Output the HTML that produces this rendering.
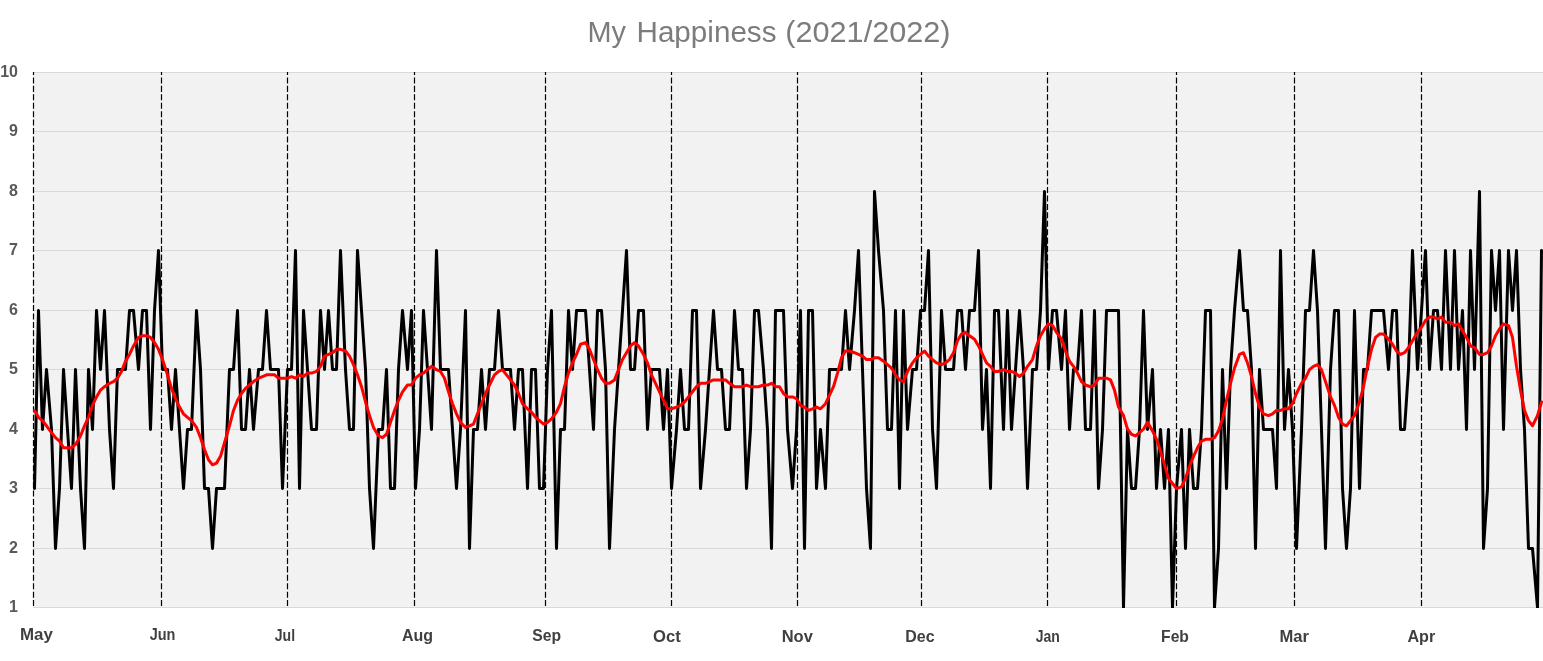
<!DOCTYPE html>
<html><head><meta charset="utf-8"><title>My Happiness (2021/2022)</title>
<style>
html,body{margin:0;padding:0;background:#fff;}
body{width:1543px;height:661px;overflow:hidden;}
svg{display:block;}
text{font-family:"Liberation Sans",sans-serif;}
.yl{font-size:16px;font-weight:bold;fill:#595959;}
.xl{font-size:16.5px;font-weight:bold;fill:#404040;}
.title{font-size:30px;fill:#7c7c7c;}
</style></head><body>
<svg width="1543" height="661" viewBox="0 0 1543 661">
<defs><clipPath id="plot"><rect x="33.0" y="72" width="1510.0" height="536"/></clipPath></defs>
<rect x="0" y="0" width="1543" height="661" fill="#ffffff"/>
<rect x="33.0" y="72" width="1510.0" height="536" fill="#f2f2f2"/>

<line x1="33.0" x2="1543" y1="607.50" y2="607.50" stroke="#d9d9d9" stroke-width="1"/>
<line x1="33.0" x2="1543" y1="548.50" y2="548.50" stroke="#d9d9d9" stroke-width="1"/>
<line x1="33.0" x2="1543" y1="488.50" y2="488.50" stroke="#d9d9d9" stroke-width="1"/>
<line x1="33.0" x2="1543" y1="429.50" y2="429.50" stroke="#d9d9d9" stroke-width="1"/>
<line x1="33.0" x2="1543" y1="369.50" y2="369.50" stroke="#d9d9d9" stroke-width="1"/>
<line x1="33.0" x2="1543" y1="310.50" y2="310.50" stroke="#d9d9d9" stroke-width="1"/>
<line x1="33.0" x2="1543" y1="250.50" y2="250.50" stroke="#d9d9d9" stroke-width="1"/>
<line x1="33.0" x2="1543" y1="191.50" y2="191.50" stroke="#d9d9d9" stroke-width="1"/>
<line x1="33.0" x2="1543" y1="131.50" y2="131.50" stroke="#d9d9d9" stroke-width="1"/>
<line x1="33.0" x2="1543" y1="72.50" y2="72.50" stroke="#d9d9d9" stroke-width="1"/>
<text class="title" y="42"><tspan x="587.5" textLength="38.5" lengthAdjust="spacingAndGlyphs">My</tspan> <tspan x="636.5" textLength="140" lengthAdjust="spacingAndGlyphs">Happiness</tspan> <tspan x="785.3" textLength="165.2" lengthAdjust="spacingAndGlyphs">(2021/2022)</tspan></text>
<text class="yl" x="18" y="611.9" text-anchor="end">1</text>
<text class="yl" x="18" y="552.5" text-anchor="end">2</text>
<text class="yl" x="18" y="493.0" text-anchor="end">3</text>
<text class="yl" x="18" y="433.6" text-anchor="end">4</text>
<text class="yl" x="18" y="374.1" text-anchor="end">5</text>
<text class="yl" x="18" y="314.7" text-anchor="end">6</text>
<text class="yl" x="18" y="255.2" text-anchor="end">7</text>
<text class="yl" x="18" y="195.8" text-anchor="end">8</text>
<text class="yl" x="18" y="136.3" text-anchor="end">9</text>
<text class="yl" x="18" y="76.9" text-anchor="end">10</text>
<text class="xl" x="19.9" y="640.0" textLength="32.9" lengthAdjust="spacingAndGlyphs">May</text>
<text class="xl" x="149.7" y="640.0" textLength="25.7" lengthAdjust="spacingAndGlyphs">Jun</text>
<text class="xl" x="274.8" y="640.6" textLength="20.3" lengthAdjust="spacingAndGlyphs">Jul</text>
<text class="xl" x="402.0" y="641.0" textLength="31.1" lengthAdjust="spacingAndGlyphs">Aug</text>
<text class="xl" x="532.2" y="641.3" textLength="28.8" lengthAdjust="spacingAndGlyphs">Sep</text>
<text class="xl" x="653.0" y="642.0" textLength="27.7" lengthAdjust="spacingAndGlyphs">Oct</text>
<text class="xl" x="781.7" y="642.0" textLength="31.1" lengthAdjust="spacingAndGlyphs">Nov</text>
<text class="xl" x="905.3" y="642.0" textLength="29.3" lengthAdjust="spacingAndGlyphs">Dec</text>
<text class="xl" x="1035.7" y="642.0" textLength="24.1" lengthAdjust="spacingAndGlyphs">Jan</text>
<text class="xl" x="1161.1" y="642.0" textLength="27.8" lengthAdjust="spacingAndGlyphs">Feb</text>
<text class="xl" x="1279.4" y="642.0" textLength="29.5" lengthAdjust="spacingAndGlyphs">Mar</text>
<text class="xl" x="1407.4" y="642.0" textLength="27.8" lengthAdjust="spacingAndGlyphs">Apr</text>
<line x1="33.50" x2="33.50" y1="72" y2="608" stroke="#000" stroke-width="1.2" stroke-dasharray="6.03 2.4" stroke-dashoffset="3"/>
<line x1="161.50" x2="161.50" y1="72" y2="608" stroke="#000" stroke-width="1.2" stroke-dasharray="6.03 2.4" stroke-dashoffset="3"/>
<line x1="287.50" x2="287.50" y1="72" y2="608" stroke="#000" stroke-width="1.2" stroke-dasharray="6.03 2.4" stroke-dashoffset="3"/>
<line x1="414.50" x2="414.50" y1="72" y2="608" stroke="#000" stroke-width="1.2" stroke-dasharray="6.03 2.4" stroke-dashoffset="3"/>
<line x1="545.50" x2="545.50" y1="72" y2="608" stroke="#000" stroke-width="1.2" stroke-dasharray="6.03 2.4" stroke-dashoffset="3"/>
<line x1="671.50" x2="671.50" y1="72" y2="608" stroke="#000" stroke-width="1.2" stroke-dasharray="6.03 2.4" stroke-dashoffset="3"/>
<line x1="797.50" x2="797.50" y1="72" y2="608" stroke="#000" stroke-width="1.2" stroke-dasharray="6.03 2.4" stroke-dashoffset="3"/>
<line x1="921.50" x2="921.50" y1="72" y2="608" stroke="#000" stroke-width="1.2" stroke-dasharray="6.03 2.4" stroke-dashoffset="3"/>
<line x1="1047.50" x2="1047.50" y1="72" y2="608" stroke="#000" stroke-width="1.2" stroke-dasharray="6.03 2.4" stroke-dashoffset="3"/>
<line x1="1176.50" x2="1176.50" y1="72" y2="608" stroke="#000" stroke-width="1.2" stroke-dasharray="6.03 2.4" stroke-dashoffset="3"/>
<line x1="1294.50" x2="1294.50" y1="72" y2="608" stroke="#000" stroke-width="1.2" stroke-dasharray="6.03 2.4" stroke-dashoffset="3"/>
<line x1="1421.50" x2="1421.50" y1="72" y2="608" stroke="#000" stroke-width="1.2" stroke-dasharray="6.03 2.4" stroke-dashoffset="3"/>
<polyline clip-path="url(#plot)" points="34.50,488.50 38.50,310.50 42.50,429.50 46.50,369.50 51.50,429.50 55.50,548.50 59.50,488.50 63.50,369.50 67.50,429.50 71.50,488.50 75.50,369.50 80.50,488.50 84.50,548.50 88.50,369.50 92.50,429.50 96.50,310.50 100.50,369.50 104.50,310.50 109.50,429.50 113.50,488.50 117.50,369.50 121.50,369.50 125.50,369.50 129.50,310.50 133.50,310.50 138.50,369.50 142.50,310.50 146.50,310.50 150.50,429.50 154.50,310.50 158.50,250.50 162.50,369.50 167.50,369.50 171.50,429.50 175.50,369.50 179.50,429.50 183.50,488.50 187.50,429.50 191.50,429.50 196.50,310.50 200.50,369.50 204.50,488.50 208.50,488.50 212.50,548.50 216.50,488.50 220.50,488.50 224.50,488.50 229.50,369.50 233.50,369.50 237.50,310.50 241.50,429.50 245.50,429.50 249.50,369.50 253.50,429.50 258.50,369.50 262.50,369.50 266.50,310.50 270.50,369.50 274.50,369.50 278.50,369.50 282.50,488.50 287.50,369.50 291.50,369.50 295.50,250.50 299.50,488.50 303.50,310.50 307.50,369.50 311.50,429.50 316.50,429.50 320.50,310.50 324.50,369.50 328.50,310.50 332.50,369.50 336.50,369.50 340.50,250.50 345.50,369.50 349.50,429.50 353.50,429.50 357.50,250.50 361.50,310.50 365.50,369.50 369.50,488.50 373.50,548.50 378.50,429.50 382.50,429.50 386.50,369.50 390.50,488.50 394.50,488.50 398.50,369.50 402.50,310.50 407.50,369.50 411.50,310.50 415.50,488.50 419.50,429.50 423.50,310.50 427.50,369.50 431.50,429.50 436.50,250.50 440.50,369.50 444.50,369.50 448.50,369.50 452.50,429.50 456.50,488.50 460.50,429.50 465.50,310.50 469.50,548.50 473.50,429.50 477.50,429.50 481.50,369.50 485.50,429.50 489.50,369.50 494.50,369.50 498.50,310.50 502.50,369.50 506.50,369.50 510.50,369.50 514.50,429.50 518.50,369.50 522.50,369.50 527.50,488.50 531.50,369.50 535.50,369.50 539.50,488.50 543.50,488.50 547.50,369.50 551.50,310.50 556.50,548.50 560.50,429.50 564.50,429.50 568.50,310.50 572.50,369.50 576.50,310.50 580.50,310.50 585.50,310.50 589.50,369.50 593.50,429.50 597.50,310.50 601.50,310.50 605.50,369.50 609.50,548.50 614.50,429.50 618.50,369.50 622.50,310.50 626.50,250.50 630.50,369.50 634.50,369.50 638.50,310.50 643.50,310.50 647.50,429.50 651.50,369.50 655.50,369.50 659.50,369.50 663.50,429.50 667.50,369.50 671.50,488.50 676.50,429.50 680.50,369.50 684.50,429.50 688.50,429.50 692.50,310.50 696.50,310.50 700.50,488.50 705.50,429.50 709.50,369.50 713.50,310.50 717.50,369.50 721.50,369.50 725.50,429.50 729.50,429.50 734.50,310.50 738.50,369.50 742.50,369.50 746.50,488.50 750.50,429.50 754.50,310.50 758.50,310.50 763.50,369.50 767.50,429.50 771.50,548.50 775.50,310.50 779.50,310.50 783.50,310.50 787.50,429.50 792.50,488.50 796.50,429.50 800.50,310.50 804.50,548.50 808.50,310.50 812.50,310.50 816.50,488.50 820.50,429.50 825.50,488.50 829.50,369.50 833.50,369.50 837.50,369.50 841.50,369.50 845.50,310.50 849.50,369.50 854.50,310.50 858.50,250.50 862.50,369.50 866.50,488.50 870.50,548.50 874.50,191.50 878.50,250.50 883.50,310.50 887.50,429.50 891.50,429.50 895.50,310.50 899.50,488.50 903.50,310.50 907.50,429.50 912.50,369.50 916.50,369.50 920.50,310.50 924.50,310.50 928.50,250.50 932.50,429.50 936.50,488.50 941.50,310.50 945.50,369.50 949.50,369.50 953.50,369.50 957.50,310.50 961.50,310.50 965.50,369.50 969.50,310.50 974.50,310.50 978.50,250.50 982.50,429.50 986.50,369.50 990.50,488.50 994.50,310.50 998.50,310.50 1003.50,429.50 1007.50,310.50 1011.50,429.50 1015.50,369.50 1019.50,310.50 1023.50,369.50 1027.50,488.50 1032.50,369.50 1036.50,369.50 1040.50,310.50 1044.50,191.50 1048.50,369.50 1052.50,310.50 1056.50,310.50 1061.50,369.50 1065.50,310.50 1069.50,429.50 1073.50,369.50 1077.50,369.50 1081.50,310.50 1085.50,429.50 1090.50,429.50 1094.50,310.50 1098.50,488.50 1102.50,429.50 1106.50,310.50 1110.50,310.50 1114.50,310.50 1118.50,310.50 1123.50,607.50 1127.50,429.50 1131.50,488.50 1135.50,488.50 1139.50,429.50 1143.50,310.50 1147.50,429.50 1152.50,369.50 1156.50,488.50 1160.50,429.50 1164.50,488.50 1168.50,429.50 1172.50,607.50 1176.50,488.50 1181.50,429.50 1185.50,548.50 1189.50,429.50 1193.50,488.50 1197.50,488.50 1201.50,429.50 1205.50,310.50 1210.50,310.50 1214.50,607.50 1218.50,548.50 1222.50,369.50 1226.50,488.50 1230.50,369.50 1234.50,310.50 1239.50,250.50 1243.50,310.50 1247.50,310.50 1251.50,369.50 1255.50,548.50 1259.50,369.50 1263.50,429.50 1268.50,429.50 1272.50,429.50 1276.50,488.50 1280.50,250.50 1284.50,429.50 1288.50,369.50 1292.50,429.50 1296.50,548.50 1301.50,429.50 1305.50,310.50 1309.50,310.50 1313.50,250.50 1317.50,310.50 1321.50,429.50 1325.50,548.50 1330.50,369.50 1334.50,310.50 1338.50,310.50 1342.50,488.50 1346.50,548.50 1350.50,488.50 1354.50,310.50 1359.50,488.50 1363.50,369.50 1367.50,369.50 1371.50,310.50 1375.50,310.50 1379.50,310.50 1383.50,310.50 1388.50,369.50 1392.50,310.50 1396.50,310.50 1400.50,429.50 1404.50,429.50 1408.50,369.50 1412.50,250.50 1417.50,369.50 1421.50,310.50 1425.50,250.50 1429.50,369.50 1433.50,310.50 1437.50,310.50 1441.50,369.50 1445.50,250.50 1450.50,369.50 1454.50,250.50 1458.50,369.50 1462.50,310.50 1466.50,429.50 1470.50,250.50 1474.50,369.50 1479.50,191.50 1483.50,548.50 1487.50,488.50 1491.50,250.50 1495.50,310.50 1499.50,250.50 1503.50,429.50 1508.50,250.50 1512.50,310.50 1516.50,250.50 1520.50,369.50 1524.50,429.50 1528.50,548.50 1532.50,548.50 1537.50,607.50 1541.50,250.50" fill="none" stroke="#000" stroke-width="3" stroke-linejoin="round" stroke-linecap="round"/>
<polyline clip-path="url(#plot)" points="34.50,410.48 38.50,417.28 42.50,420.67 46.50,425.77 51.50,432.56 55.50,437.66 59.50,441.06 63.50,447.85 67.50,447.85 71.50,447.85 75.50,444.45 80.50,435.96 84.50,425.77 88.50,417.28 92.50,405.39 96.50,396.90 100.50,390.10 104.50,386.71 109.50,383.31 113.50,381.61 117.50,378.21 121.50,371.42 125.50,361.23 129.50,354.44 133.50,345.94 138.50,337.45 142.50,335.75 146.50,335.75 150.50,337.45 154.50,342.55 158.50,349.34 162.50,359.53 167.50,374.82 171.50,388.40 175.50,398.60 179.50,407.09 183.50,413.88 187.50,417.28 191.50,420.67 196.50,427.47 200.50,437.66 204.50,449.55 208.50,459.74 212.50,464.83 216.50,463.13 220.50,456.34 224.50,442.75 229.50,425.77 233.50,410.48 237.50,400.29 241.50,393.50 245.50,388.40 249.50,385.01 253.50,381.61 258.50,378.21 262.50,376.52 266.50,374.82 270.50,374.82 274.50,374.82 278.50,378.21 282.50,378.21 287.50,378.21 291.50,376.52 295.50,378.21 299.50,374.82 303.50,376.52 307.50,373.12 311.50,373.12 316.50,371.42 320.50,366.33 324.50,356.13 328.50,354.44 332.50,352.74 336.50,349.34 340.50,349.34 345.50,351.04 349.50,356.13 353.50,364.63 357.50,374.82 361.50,386.71 365.50,401.99 369.50,415.58 373.50,427.47 378.50,435.96 382.50,437.66 386.50,434.26 390.50,422.37 394.50,410.48 398.50,400.29 402.50,391.80 407.50,385.01 411.50,385.01 415.50,378.21 419.50,374.82 423.50,373.12 427.50,369.72 431.50,366.33 436.50,369.72 440.50,371.42 444.50,378.21 448.50,391.80 452.50,403.69 456.50,413.88 460.50,422.37 465.50,427.47 469.50,425.77 473.50,424.07 477.50,413.88 481.50,403.69 485.50,393.50 489.50,385.01 494.50,374.82 498.50,371.42 502.50,369.72 506.50,374.82 510.50,379.91 514.50,385.01 518.50,393.50 522.50,403.69 527.50,408.79 531.50,412.18 535.50,417.28 539.50,420.67 543.50,424.07 547.50,422.37 551.50,418.98 556.50,412.18 560.50,403.69 564.50,386.71 568.50,373.12 572.50,362.93 576.50,354.44 580.50,344.25 585.50,342.55 589.50,349.34 593.50,359.53 597.50,369.72 601.50,378.21 605.50,383.31 609.50,383.31 614.50,379.91 618.50,369.72 622.50,359.53 626.50,352.74 630.50,345.94 634.50,342.55 638.50,345.94 643.50,354.44 647.50,362.93 651.50,374.82 655.50,383.31 659.50,391.80 663.50,400.29 667.50,408.79 671.50,408.79 676.50,407.09 680.50,405.39 684.50,401.99 688.50,396.90 692.50,391.80 696.50,386.71 700.50,383.31 705.50,383.31 709.50,381.61 713.50,379.91 717.50,379.91 721.50,379.91 725.50,379.91 729.50,383.31 734.50,386.71 738.50,386.71 742.50,386.71 746.50,385.01 750.50,386.71 754.50,386.71 758.50,386.71 763.50,385.01 767.50,385.01 771.50,383.31 775.50,386.71 779.50,386.71 783.50,393.50 787.50,396.90 792.50,396.90 796.50,398.60 800.50,405.39 804.50,407.09 808.50,410.48 812.50,408.79 816.50,407.09 820.50,408.79 825.50,403.69 829.50,395.20 833.50,386.71 837.50,373.12 841.50,357.83 845.50,351.04 849.50,351.04 854.50,352.74 858.50,354.44 862.50,356.13 866.50,359.53 870.50,359.53 874.50,357.83 878.50,357.83 883.50,361.23 887.50,364.63 891.50,368.02 895.50,374.82 899.50,379.91 903.50,381.61 907.50,371.42 912.50,362.93 916.50,357.83 920.50,354.44 924.50,351.04 928.50,356.13 932.50,359.53 936.50,362.93 941.50,364.63 945.50,362.93 949.50,359.53 953.50,352.74 957.50,340.85 961.50,334.06 965.50,332.36 969.50,335.75 974.50,339.15 978.50,345.94 982.50,354.44 986.50,362.93 990.50,366.33 994.50,371.42 998.50,371.42 1003.50,369.72 1007.50,371.42 1011.50,371.42 1015.50,373.12 1019.50,376.52 1023.50,373.12 1027.50,366.33 1032.50,359.53 1036.50,345.94 1040.50,335.75 1044.50,328.96 1048.50,323.87 1052.50,325.56 1056.50,332.36 1061.50,339.15 1065.50,351.04 1069.50,361.23 1073.50,366.33 1077.50,373.12 1081.50,381.61 1085.50,385.01 1090.50,386.71 1094.50,385.01 1098.50,378.21 1102.50,378.21 1106.50,378.21 1110.50,379.91 1114.50,390.10 1118.50,407.09 1123.50,415.58 1127.50,429.17 1131.50,434.26 1135.50,435.96 1139.50,432.56 1143.50,429.17 1147.50,422.37 1152.50,430.87 1156.50,439.36 1160.50,451.25 1164.50,464.83 1168.50,478.42 1172.50,483.52 1176.50,488.61 1181.50,486.91 1185.50,478.42 1189.50,466.53 1193.50,456.34 1197.50,447.85 1201.50,441.06 1205.50,439.36 1210.50,439.36 1214.50,437.66 1218.50,430.87 1222.50,418.98 1226.50,400.29 1230.50,383.31 1234.50,368.02 1239.50,354.44 1243.50,352.74 1247.50,362.93 1251.50,376.52 1255.50,393.50 1259.50,407.09 1263.50,413.88 1268.50,415.58 1272.50,413.88 1276.50,410.48 1280.50,410.48 1284.50,408.79 1288.50,408.79 1292.50,403.69 1296.50,393.50 1301.50,383.31 1305.50,378.21 1309.50,369.72 1313.50,366.33 1317.50,364.63 1321.50,369.72 1325.50,381.61 1330.50,396.90 1334.50,405.39 1338.50,417.28 1342.50,424.07 1346.50,425.77 1350.50,420.67 1354.50,415.58 1359.50,401.99 1363.50,386.71 1367.50,366.33 1371.50,349.34 1375.50,337.45 1379.50,334.06 1383.50,334.06 1388.50,339.15 1392.50,344.25 1396.50,351.04 1400.50,354.44 1404.50,352.74 1408.50,347.64 1412.50,340.85 1417.50,332.36 1421.50,327.26 1425.50,320.47 1429.50,317.07 1433.50,317.07 1437.50,318.77 1441.50,317.07 1445.50,322.17 1450.50,322.17 1454.50,325.56 1458.50,323.87 1462.50,330.66 1466.50,337.45 1470.50,345.94 1474.50,347.64 1479.50,354.44 1483.50,354.44 1487.50,352.74 1491.50,345.94 1495.50,335.75 1499.50,328.96 1503.50,323.87 1508.50,325.56 1512.50,337.45 1516.50,366.33 1520.50,390.10 1524.50,410.48 1528.50,420.67 1532.50,425.77 1537.50,415.58 1541.50,401.99" fill="none" stroke="#ff0000" stroke-width="3" stroke-linejoin="round" stroke-linecap="round"/>
</svg></body></html>
